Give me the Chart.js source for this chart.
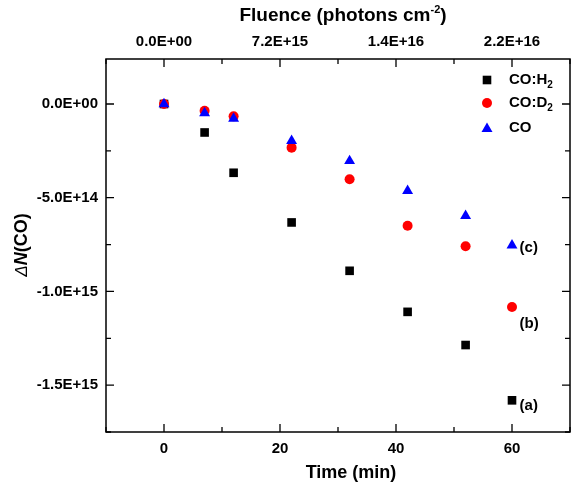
<!DOCTYPE html>
<html>
<head>
<meta charset="utf-8">
<script src="https://cdn.jsdelivr.net/npm/chart.js@4.4.1/dist/chart.umd.min.js"></script>
<style>
  html, body { margin: 0; padding: 0; background: #fff; }
  #wrap { width: 571px; height: 488px; position: relative; }
</style>
</head>
<body>
<div id="wrap"><canvas id="coChart"></canvas></div>
<script>
// Data
const timeMin = [0, 7, 12, 22, 32, 42, 52, 60];
const coH2 = [0, -1.52e14, -3.67e14, -6.32e14, -8.9e14, -1.109e15, -1.286e15, -1.581e15];
const coD2 = [0, -3.6e13, -6.6e13, -2.33e14, -4.02e14, -6.5e14, -7.59e14, -1.083e15];
const coPure = [0, -4.8e13, -7.8e13, -1.97e14, -3.04e14, -4.63e14, -5.97e14, -7.54e14];

const seriesNames = [['CO:H', '2'], ['CO:D', '2'], ['CO', '']];
const seriesColors = ['#000000', '#ff0000', '#0000ff'];
const seriesShapes = ['rect', 'circle', 'triangle'];

// curve labels at the right end
const noteText = ['(a)', '(b)', '(c)'];
const noteTime = [61.3, 61.3, 61.3];
const noteValue = [-1.612e15, -1.172e15, -7.7e14];

// axis ticks (labelled ones are in the *Labelled arrays)
const timeRange = [-10, 70];
const timeTicks = [-10, 0, 10, 20, 30, 40, 50, 60, 70];
const timeLabelled = [0, 20, 40, 60];
const nRange = [-1.75e15, 2.4e14];
const nTicks = [-1.75e15, -1.5e15, -1.25e15, -1e15, -7.5e14, -5e14, -2.5e14, 0];
const nLabelled = [-1.5e15, -1e15, -5e14, 0];
const fluencePerMin = 3.6e14;   // photons cm-2 per minute (top axis)
const fluenceTicks = timeTicks.map(t => t * fluencePerMin);
const fluenceLabelled = timeLabelled.map(t => t * fluencePerMin);

const FONT = '"Liberation Sans", Arial, sans-serif';

function sci(v) {
    if (Math.abs(v) < 1) v = 0;
    const parts = v.toExponential(1).split('e');
    return parts[0] + 'E' + parts[1][0] + parts[1].slice(1).padStart(2, '0');
}
const inList = (v, list) => list.some(u => Math.abs(u - v) <= Math.abs(u) * 1e-9 + 1e-9);
const setTicks = list => s => { s.ticks = list.map(v => ({ value: v })); };

// Inward ticks, frame, titles, legend and notes
const decorPlugin = {
    id: 'decor',
    afterDraw(chart) {
        const { ctx, chartArea: a, scales } = chart;
        ctx.save();
        ctx.strokeStyle = '#000';
        ctx.lineWidth = 1.3;
        ctx.beginPath();
        scales.x.ticks.forEach(t => {
            const p = scales.x.getPixelForValue(t.value);
            const len = t.label ? 8 : 5;
            ctx.moveTo(p, a.bottom); ctx.lineTo(p, a.bottom - len);
        });
        scales.x2.ticks.forEach(t => {
            const p = scales.x2.getPixelForValue(t.value);
            const len = t.label ? 8 : 5;
            ctx.moveTo(p, a.top); ctx.lineTo(p, a.top + len);
        });
        scales.y.ticks.forEach(t => {
            const p = scales.y.getPixelForValue(t.value);
            const len = t.label ? 8 : 5;
            ctx.moveTo(a.left, p); ctx.lineTo(a.left + len, p);
        });
        scales.y2.ticks.forEach(t => {
            const p = scales.y2.getPixelForValue(t.value);
            const len = t.label ? 8 : 5;
            ctx.moveTo(a.right, p); ctx.lineTo(a.right - len, p);
        });
        ctx.stroke();
        ctx.lineWidth = 1.5;
        ctx.strokeRect(a.left, a.top, a.right - a.left, a.bottom - a.top);

        ctx.fillStyle = '#000';
        ctx.textBaseline = 'middle';

        // bottom title
        ctx.font = 'bold 18px ' + FONT;
        ctx.textAlign = 'center';
        ctx.fillText('Time (min)', 351, 473);

        // top title with superscript
        ctx.textAlign = 'left';
        const t1 = 'Fluence (photons cm';
        ctx.font = 'bold 19px ' + FONT;
        const w1 = ctx.measureText(t1).width;
        ctx.font = 'bold 11px ' + FONT;
        const w2 = ctx.measureText('-2').width;
        ctx.font = 'bold 19px ' + FONT;
        const w3 = ctx.measureText(')').width;
        const x0 = 343 - (w1 + w2 + w3) / 2;
        ctx.fillText(t1, x0, 16);
        ctx.font = 'bold 11px ' + FONT;
        ctx.fillText('-2', x0 + w1, 10);
        ctx.font = 'bold 19px ' + FONT;
        ctx.fillText(')', x0 + w1 + w2, 16);

        // left title, rotated
        ctx.save();
        ctx.translate(22, 245);
        ctx.rotate(-Math.PI / 2);
        const parts = [['\u0394', 'italic 17px ' + FONT], ['N', 'italic bold 18px ' + FONT], ['(CO)', 'bold 18px ' + FONT]];
        let total = 0;
        parts.forEach(p => { ctx.font = p[1]; total += ctx.measureText(p[0]).width; });
        let px = -total / 2;
        parts.forEach(p => { ctx.font = p[1]; ctx.fillText(p[0], px, 0); px += ctx.measureText(p[0]).width; });
        ctx.restore();

        // legend
        const legX = 487, legY = [80, 103, 128], legText = 509;
        seriesNames.forEach((name, i) => {
            const y = legY[i];
            ctx.fillStyle = seriesColors[i];
            ctx.beginPath();
            if (seriesShapes[i] === 'rect') {
                ctx.rect(legX - 4.3, y - 4.3, 8.6, 8.6);
            } else if (seriesShapes[i] === 'circle') {
                ctx.arc(legX, y, 5, 0, Math.PI * 2);
            } else {
                ctx.moveTo(legX, y - 5.5);
                ctx.lineTo(legX + 5.5, y + 4);
                ctx.lineTo(legX - 5.5, y + 4);
                ctx.closePath();
            }
            ctx.fill();
            ctx.fillStyle = '#000';
            ctx.font = 'bold 15px ' + FONT;
            ctx.fillText(name[0], legText, y);
            if (name[1]) {
                const w = ctx.measureText(name[0]).width;
                ctx.font = 'bold 10px ' + FONT;
                ctx.fillText(name[1], legText + w, y + 5);
            }
        });

        // curve notes
        ctx.font = 'bold 15px ' + FONT;
        ctx.textAlign = 'left';
        noteText.forEach((s, i) => {
            ctx.fillText(s, scales.x.getPixelForValue(noteTime[i]), scales.y.getPixelForValue(noteValue[i]));
        });
        ctx.restore();
    }
};

const tickFont = { family: FONT, size: 15, weight: 'bold' };

const ctx = document.getElementById('coChart').getContext('2d');
new Chart(ctx, {
    type: 'scatter',
    data: {
        datasets: [coH2, coD2, coPure].map((vals, i) => ({
            label: seriesNames[i].join(''),
            data: timeMin.map((t, k) => ({ x: t, y: vals[k] })),
            pointStyle: seriesShapes[i],
            pointRadius: seriesShapes[i] === 'rect' ? 6.1 : (seriesShapes[i] === 'circle' ? 5 : 6.3),
            pointHoverRadius: 6,
            pointBackgroundColor: seriesColors[i],
            pointBorderWidth: 0,
            showLine: false,
            order: 2 - i
        }))
    },
    options: {
        responsive: true,
        maintainAspectRatio: false,
        animation: false,
        layout: { padding: 0, autoPadding: false },
        plugins: {
            legend: { display: false },
            tooltip: { enabled: false }
        },
        scales: {
            x: {
                type: 'linear',
                position: 'bottom',
                min: timeRange[0],
                max: timeRange[1],
                grid: { display: false },
                border: { display: false },
                afterBuildTicks: setTicks(timeTicks),
                ticks: {
                    autoSkip: false,
                    maxRotation: 0,
                    padding: 0,
                    color: '#000',
                    font: tickFont,
                    callback: v => inList(v, timeLabelled) ? String(v) : ''
                },
                afterFit: s => { s.height = 56; s.paddingLeft = 0; s.paddingRight = 0; }
            },
            x2: {
                type: 'linear',
                position: 'top',
                min: timeRange[0] * fluencePerMin,
                max: timeRange[1] * fluencePerMin,
                grid: { display: false },
                border: { display: false },
                afterBuildTicks: setTicks(fluenceTicks),
                ticks: {
                    autoSkip: false,
                    maxRotation: 0,
                    padding: 0,
                    color: '#000',
                    font: tickFont,
                    callback: v => inList(v, fluenceLabelled) ? sci(v) : ''
                },
                afterFit: s => { s.height = 59; s.paddingLeft = 0; s.paddingRight = 0; }
            },
            y: {
                type: 'linear',
                position: 'left',
                min: nRange[0],
                max: nRange[1],
                grid: { display: false },
                border: { display: false },
                afterBuildTicks: setTicks(nTicks),
                ticks: {
                    autoSkip: false,
                    padding: 0,
                    color: '#000',
                    font: tickFont,
                    callback: v => inList(v, nLabelled) ? sci(v) : ''
                },
                afterFit: s => { s.width = 106; s.paddingTop = 0; s.paddingBottom = 0; }
            },
            y2: {
                type: 'linear',
                position: 'right',
                min: nRange[0],
                max: nRange[1],
                grid: { display: false },
                border: { display: false },
                afterBuildTicks: setTicks(nTicks),
                ticks: {
                    display: false,
                    autoSkip: false,
                    callback: v => inList(v, nLabelled) ? sci(v) : ''
                },
                afterFit: s => { s.width = 1; s.paddingTop = 0; s.paddingBottom = 0; }
            }
        }
    },
    plugins: [decorPlugin]
});
</script>
</body>
</html>
